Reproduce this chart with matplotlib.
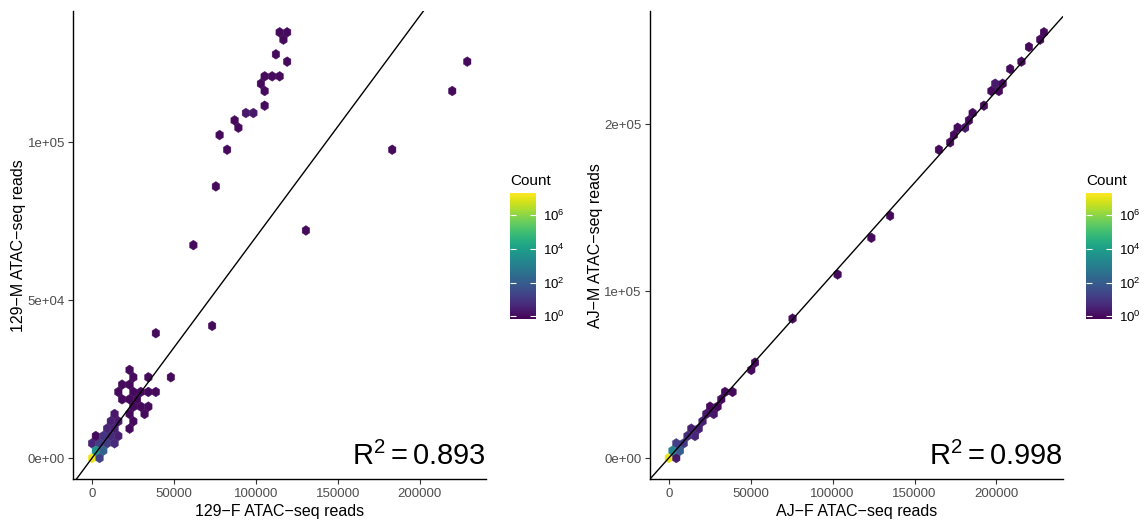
import numpy as np
import matplotlib
matplotlib.use("Agg")
import matplotlib.pyplot as plt
from matplotlib.colors import LogNorm

plt.rcParams['font.family'] = ['Liberation Sans', 'DejaVu Sans']
plt.rcParams['mathtext.fontset'] = 'custom'
plt.rcParams['mathtext.rm'] = 'Liberation Sans'
plt.rcParams['mathtext.it'] = 'Liberation Sans:italic'

# hex centres (reads) and their counts
s129_f = [114500, 119080, 116790, 112210, 119080, 229000,
          105340, 109920, 114500, 103050, 105340, 219840, 105340,
          93890, 98470, 87020, 89310, 77860, 82440, 183200, 75570,
          130530, 61830, 73280, 38930, 22900,
          25190, 34350, 48090, 18320, 22900,
          16030, 25190, 29770, 34350, 38930,
          18320, 22900, 27480, 25190, 29770, 34350,
          13740, 22900, 32060, 11450, 16030, 25190,
          9160, 13740, 22900, 2290, 6870, 11450, 16030,
          0, 4580, 9160, 13740, 2290, 6870, 0, 4580]
s129_m = [134850, 134850, 132525, 127875, 125550, 125550,
          120900, 120900, 120900, 118575, 116250, 116250, 111600,
          109275, 109275, 106950, 104625, 102300, 97650, 97650, 86025,
          72075, 67425, 41850, 39525, 27900,
          25575, 25575, 25575, 23250, 23250,
          20925, 20925, 20925, 20925, 20925,
          18600, 18600, 18600, 16275, 16275, 16275,
          13950, 13950, 13950, 11625, 11625, 11625,
          9300, 9300, 9300, 6975, 6975, 6975, 6975,
          4650, 4650, 4650, 4650, 2325, 2325, 0, 0]
s129_count = [1, 1, 1, 1, 1, 1,
              1, 1, 1, 1, 1, 1, 1,
              2, 2, 1, 1, 1, 1, 1, 1,
              1, 1, 1, 1, 1,
              1, 1, 1, 1, 1,
              1, 1, 1, 1, 1,
              1, 1, 1, 1, 1, 1,
              2, 1, 1, 3, 2, 1,
              4, 3, 1, 1, 8, 5, 3,
              4, 15, 12, 5, 5000, 150, 1.3e7, 20]

aj_f = [229000, 226710, 219840, 215260, 208390, 203810, 199230,
        196940, 201520, 192360, 185490, 183200, 176330, 180910,
        174040, 171750, 164880, 135110, 123660, 103050, 75570,
        52670, 50380, 38930, 34350, 32060, 29770, 25190,
        27480, 22900, 20610, 18320, 13740, 16030, 11450,
        9160, 4580, 6870, 2290, 0, 4580]
aj_m = [255200, 250800, 246400, 237600, 233200, 224400, 224400,
        220000, 220000, 211200, 206800, 202400, 198000, 198000,
        193600, 189200, 184800, 145200, 132000, 110000, 83600,
        57200, 52800, 39600, 39600, 35200, 30800, 30800,
        26400, 26400, 22000, 17600, 17600, 13200, 13200,
        8800, 8800, 4400, 4400, 0, 0]
aj_count = [1, 1, 1, 1, 1, 1, 2,
            1, 1, 1, 1, 1, 1, 2,
            1, 1, 1, 1, 1, 1, 1,
            1, 1, 1, 1, 1, 1, 1,
            2, 2, 3, 3, 3, 4, 6,
            10, 15, 100, 1500, 1.3e7, 2]

panels = [
    dict(x=s129_f, y=s129_m, c=s129_count, dy=2325, slope=0.70, r2='0.893',
         xlabel='129\u2212F ATAC\u2212seq reads', ylabel='129\u2212M ATAC\u2212seq reads',
         yticks=[0, 50000, 100000], yticklabels=['0e+00', '5e+04', '1e+05']),
    dict(x=aj_f, y=aj_m, c=aj_count, dy=4400, slope=1.10, r2='0.998',
         xlabel='AJ\u2212F ATAC\u2212seq reads', ylabel='AJ\u2212M ATAC\u2212seq reads',
         yticks=[0, 100000, 200000], yticklabels=['0e+00', '1e+05', '2e+05']),
]
xticks = [0, 50000, 100000, 150000, 200000]
xticklabels = ['0', '50000', '100000', '150000', '200000']
cbar_ticks = [1, 1e2, 1e4, 1e6]
hex_dx = 4580

W, H = 1146, 522
fig = plt.figure(figsize=(W / 100, H / 100), dpi=100)
ax_px = [(73.3, 42.7, 412.7, 468.3), (650, 42.7, 412.7, 468.3)]
cax_px = [(510, 202.7, 25.7, 126), (1086, 202.7, 25.7, 126)]
norm = LogNorm(vmin=0.66, vmax=2.0e7)

for p, a, c in zip(panels, ax_px, cax_px):
    ax = fig.add_axes([a[0] / W, a[1] / H, a[2] / W, a[3] / H])
    cax = fig.add_axes([c[0] / W, c[1] / H, c[2] / W, c[3] / H])

    hb = ax.hexbin(p['x'], p['y'], C=p['c'], reduce_C_function=np.sum,
                   gridsize=(60, 30), extent=(0, 60 * hex_dx, 0, 60 * p['dy']),
                   cmap='viridis', norm=norm, linewidths=0.3, edgecolors='face')
    ax.axline((0, 0), slope=p['slope'], color='black', lw=1.0)

    xmax, ymax = max(p['x']), max(p['y'])
    ax.set_xlim(-0.05 * xmax, 1.05 * xmax)
    ax.set_ylim(-0.05 * ymax, 1.05 * ymax)
    ax.set_xticks(xticks)
    ax.set_xticklabels(xticklabels)
    ax.set_yticks(p['yticks'])
    ax.set_yticklabels(p['yticklabels'])
    ax.tick_params(length=3.5, width=0.8, color='#333333', labelcolor='#4d4d4d',
                   labelsize=9.5, pad=2.5)
    for s in ['top', 'right']:
        ax.spines[s].set_visible(False)
    for s in ['left', 'bottom']:
        ax.spines[s].set_linewidth(1.0)
    ax.set_xlabel(p['xlabel'], fontsize=11.5, labelpad=3)
    ax.set_ylabel(p['ylabel'], fontsize=11.5, labelpad=1)
    ax.text(1.0, 0.03, r'$\mathregular{R^{2}=' + p['r2'] + '}$', transform=ax.transAxes,
            ha='right', va='baseline', fontsize=21)

    cb = fig.colorbar(hb, cax=cax)
    cb.outline.set_visible(False)
    cb.set_ticks(cbar_ticks)
    cax.minorticks_off()
    cax.yaxis.set_ticks_position('both')
    cax.tick_params(which='major', direction='in', color='white', length=4.5,
                    width=0.8, labelsize=9.5, labelright=True, labelleft=False, pad=5)
    cax.set_title('Count', loc='left', fontsize=11, pad=6)

fig.savefig('out.png', dpi=100)
